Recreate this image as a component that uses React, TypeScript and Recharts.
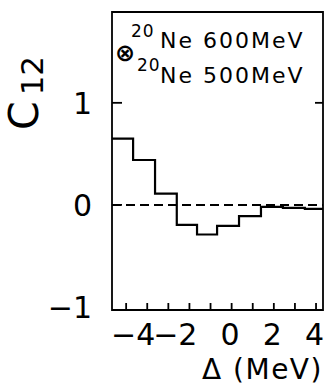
import { LineChart, Line, XAxis, YAxis, ReferenceLine, ReferenceArea, Customized } from 'recharts';

// histogram bin edges along Δ (MeV) and the C12 value of each bin
const binEdges = [-5.67, -4.67, -3.63, -2.6, -1.64, -0.69, 0.35, 1.39, 2.43, 3.47, 4.33];
const c12Values = [0.65, 0.44, 0.11, -0.195, -0.29, -0.205, -0.11, -0.02, -0.03, -0.04];

const xTicks = [-5, -4, -3, -2, -1, 0, 1, 2, 3, 4];
const xLabelled = [-4, -2, 0, 2, 4];
const yTicks = [-1, 0, 1];
const yRightTicks = [1];

const xDomain = [-5.67, 4.33];
const yDomain = [-1.03, 1.89];

const data = binEdges.map((x, i) => ({
  delta: x,
  c12: c12Values[Math.min(i, c12Values.length - 1)],
}));

const FONT = '"DejaVu Sans", sans-serif';
const fmt = (v: number) => (v < 0 ? '\u2212' + Math.abs(v) : String(v));

const XTick = (props: any) => {
  const { x, y, payload } = props;
  const v = payload.value;
  return (
    <g>
      <line x1={x} y1={y} x2={x} y2={y - 7} stroke="#000" strokeWidth={1.8} />
      {xLabelled.includes(v) && (
        <text x={x + 8} y={y + 35} textAnchor="end" fontSize={30} fontFamily={FONT} fill="#000">
          {fmt(v)}
        </text>
      )}
    </g>
  );
};

const YTick = (props: any) => {
  const { x, y, payload } = props;
  const v = payload.value;
  return (
    <g>
      {v !== -1 && <line x1={x} y1={y} x2={x + 10} y2={y} stroke="#000" strokeWidth={1.8} />}
      <text x={x - 20} y={y + 11} textAnchor="end" fontSize={30} fontFamily={FONT} fill="#000">
        {fmt(v)}
      </text>
    </g>
  );
};

const YRightTick = (props: any) => {
  const { x, y } = props;
  return <line x1={x} y1={y} x2={x - 8} y2={y} stroke="#000" strokeWidth={1.8} />;
};

const Annotations = () => (
  <g fontFamily={FONT} fill="#000">
    <g transform="translate(38, 130) rotate(-90)">
      <text x={0} y={0}>
        <tspan fontSize={41}>C</tspan>
        <tspan fontSize={31} dx={6} dy={5}>12</tspan>
      </text>
    </g>
    <text x={125} y={61} textAnchor="middle" fontSize={24} fontWeight="bold">⊗</text>
    <text x={131} y={37} fontSize={17} letterSpacing={1}>20</text>
    <text x={160} y={48} fontSize={22} letterSpacing={2}>Ne 600MeV</text>
    <text x={137} y={71} fontSize={17} letterSpacing={1}>20</text>
    <text x={160} y={83} fontSize={22} letterSpacing={2}>Ne 500MeV</text>
    <text x={202} y={379} fontSize={28} letterSpacing={1.5}>Δ (MeV)</text>
  </g>
);

export default function App() {
  return (
    <div style={{ position: 'absolute', left: 0, top: 0, width: 325, height: 387, background: '#fff' }}>
      <LineChart width={325} height={387} data={data} margin={{ top: 12, right: 0, bottom: 0, left: 0 }}>
        <XAxis
          dataKey="delta"
          type="number"
          domain={xDomain}
          ticks={xTicks}
          allowDataOverflow
          height={77}
          tickSize={0}
          tickMargin={0}
          tickLine={false}
          axisLine={false}
          tick={<XTick />}
          interval={0}
        />
        <YAxis
          type="number"
          domain={yDomain}
          ticks={yTicks}
          allowDataOverflow
          width={112}
          tickSize={0}
          tickMargin={0}
          tickLine={false}
          axisLine={false}
          tick={<YTick />}
          interval={0}
        />
        <YAxis
          yAxisId="right"
          orientation="right"
          type="number"
          domain={yDomain}
          ticks={yRightTicks}
          allowDataOverflow
          width={2}
          tickSize={0}
          tickMargin={0}
          tickLine={false}
          axisLine={false}
          tick={<YRightTick />}
        />
        <ReferenceArea
          x1={xDomain[0]}
          x2={xDomain[1]}
          y1={yDomain[0]}
          y2={yDomain[1]}
          fill="none"
          stroke="#000"
          strokeWidth={1.8}
          ifOverflow="visible"
        />
        <ReferenceLine y={0} stroke="#000" strokeWidth={2} strokeDasharray="9 5" />
        <Line
          type="stepAfter"
          dataKey="c12"
          stroke="#000"
          strokeWidth={2.2}
          dot={false}
          isAnimationActive={false}
        />
        <Customized component={Annotations} />
      </LineChart>
    </div>
  );
}
